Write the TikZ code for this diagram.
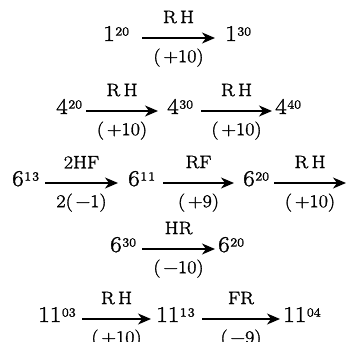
\documentclass[tikz,border=0pt]{standalone}
\usepackage{fontspec}
\setmainfont{Latin Modern Roman}[FakeStretch=1.12,FakeBold=1.6]
\usetikzlibrary{arrows.meta}
\newcommand\numsup[2]{{\fontsize{22.5}{22.5}\selectfont #1\kern0.6pt\raisebox{5.4pt}{\fontsize{12.5}{12.5}\selectfont #2}}}
\tikzset{
  num/.style={inner sep=0pt, anchor=base west},
  arr/.style={line width=1.3pt, -{Stealth[length=13pt,width=11pt,inset=4pt]}},
  labup/.style={midway, above=14pt, inner sep=0pt, font=\fontsize{18}{18}\selectfont},
  labdn/.style={midway, below=10pt, inner sep=0pt, font=\fontsize{18}{18}\selectfont}
}
\begin{document}
\begin{tikzpicture}[x=1pt,y=-1pt]
\useasboundingbox (0,0) rectangle (346,341);
% row 1
\node[num] (n11) at (103,41) {\numsup{1}{20}};
\node[num] (n12) at (225,41) {\numsup{1}{30}};
\draw[arr] ([shift={(39,-3)}]n11.base west) -- node[labup] {R\kern3.5pt H} node[labdn] {(\kern3pt+10)} ([shift={(-10,-3)}]n12.base west);
% row 2
\node[num] (n21) at (56,114) {\numsup{4}{20}};
\node[num] (n22) at (167,114) {\numsup{4}{30}};
\node[num] (n23) at (275,114) {\numsup{4}{40}};
\draw[arr] ([shift={(30,-3)}]n21.base west) -- node[labup] {R\kern3.5pt H} node[labdn] {(\kern3pt+10)} ([shift={(-9,-3)}]n22.base west);
\draw[arr] ([shift={(34,-3)}]n22.base west) -- node[labup] {R\kern3.5pt H} node[labdn] {(\kern3pt+10)} ([shift={(-3,-3)}]n23.base west);
% row 3
\node[num] (n31) at (12,186) {\numsup{6}{1\kern1pt 3}};
\node[num] (n32) at (128,186) {\numsup{6}{1\kern1pt 1}};
\node[num] (n33) at (243,186) {\numsup{6}{20}};
\coordinate (e3) at (346,183);
\draw[arr] ([shift={(33,-3)}]n31.base west) -- node[labup] {2HF} node[labdn] {2(\kern3pt−1)} ([shift={(-10,-3)}]n32.base west);
\draw[arr] ([shift={(35,-3)}]n32.base west) -- node[labup] {RF} node[labdn] {(\kern3pt+9)} ([shift={(-9,-3)}]n33.base west);
\draw[arr] ([shift={(31,-3)}]n33.base west) -- node[labup] {R\kern3.5pt H} node[labdn] {(\kern3pt+10)} (e3);
% row 4
\node[num] (n41) at (110,252) {\numsup{6}{30}};
\node[num] (n42) at (218,252) {\numsup{6}{20}};
\draw[arr] ([shift={(32,-3)}]n41.base west) -- node[labup] {HR} node[labdn] {(\kern3pt−10)} ([shift={(-3,-3)}]n42.base west);
% row 5
\node[num] (n51) at (38,322) {\numsup{11}{03}};
\node[num] (n52) at (156,322) {\numsup{11}{1\kern1pt 3}};
\node[num] (n53) at (283,322) {\numsup{11}{04}};
\draw[arr] ([shift={(44,-3)}]n51.base west) -- node[labup] {R\kern3.5pt H} node[labdn] {(\kern3pt+10)} ([shift={(-5,-3)}]n52.base west);
\draw[arr] ([shift={(46,-3)}]n52.base west) -- node[labup] {FR} node[labdn] {(\kern3pt−9)} ([shift={(-3,-3)}]n53.base west);
\end{tikzpicture}
\end{document}
